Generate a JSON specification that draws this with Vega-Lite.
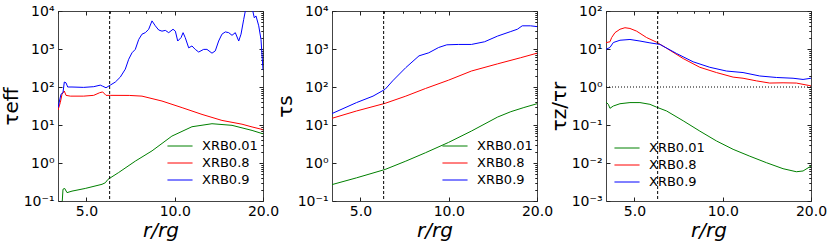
{
  "$schema": "https://vega.github.io/schema/vega-lite/v6.json",
  "background": "white",
  "padding": {"left": 0, "top": 3, "right": 2, "bottom": 0},
  "bounds": "flush",
  "spacing": 69,
  "config": {
    "font": "DejaVu Sans",
    "view": {"stroke": "#444", "strokeWidth": 1},
    "axis": {"grid": false, "domain": false, "minExtent": 0, "tickColor": "#222", "tickSize": -4, "labelColor": "black", "titleColor": "black", "labelFontSize": 14, "titleFontWeight": "normal", "labelFont": "DejaVu Sans", "titleFont": "DejaVu Sans"},
    "axisX": {"labelPadding": 7, "minExtent": 0},
    "axisY": {"labelPadding": 8, "minExtent": 0},
    "legend": {
      "symbolType": "M-1.5,0L1.5,0", "symbolSize": 280, "symbolStrokeWidth": 1, "labelFontSize": 13, "labelFont": "DejaVu Sans", "labelColor": "black", "rowPadding": 1, "offset": 10, "padding": 2, "labelOffset": 13,
      "encode": {"symbols": {"update": {"stroke": {"signal": "datum.value === 'XRB0.01' ? '#008000' : datum.value === 'XRB0.8' ? '#ff0000' : '#7f7fff'"}, "strokeWidth": {"signal": "datum.value === 'XRB0.9' ? 2 : 1"}, "fill": {"value": "transparent"}, "opacity": {"value": 1}, "strokeOpacity": {"value": 1}}}}
    }
  },
  "resolve": {"scale": {"x": "independent", "y": "independent", "color": "independent"}, "legend": {"color": "independent"}},
  "datasets": {
    "tk": [{"r": 6, "v": 1}],
    "d": [
      {"p": 1, "s": "XRB0.01", "r": 4.12, "v": 0.06},
      {"p": 1, "s": "XRB0.01", "r": 4.16, "v": 0.204},
      {"p": 1, "s": "XRB0.01", "r": 4.216, "v": 0.214},
      {"p": 1, "s": "XRB0.01", "r": 4.293, "v": 0.166},
      {"p": 1, "s": "XRB0.01", "r": 4.465, "v": 0.182},
      {"p": 1, "s": "XRB0.01", "r": 4.955, "v": 0.214},
      {"p": 1, "s": "XRB0.01", "r": 5.651, "v": 0.275},
      {"p": 1, "s": "XRB0.01", "r": 5.799, "v": 0.302},
      {"p": 1, "s": "XRB0.01", "r": 5.923, "v": 0.372},
      {"p": 1, "s": "XRB0.01", "r": 6.442, "v": 0.562},
      {"p": 1, "s": "XRB0.01", "r": 7.339, "v": 1.12},
      {"p": 1, "s": "XRB0.01", "r": 8.37, "v": 2.09},
      {"p": 1, "s": "XRB0.01", "r": 9.78, "v": 5.1},
      {"p": 1, "s": "XRB0.01", "r": 11.45, "v": 9.0},
      {"p": 1, "s": "XRB0.01", "r": 13.4, "v": 10.8},
      {"p": 1, "s": "XRB0.01", "r": 15.68, "v": 9.8},
      {"p": 1, "s": "XRB0.01", "r": 18.35, "v": 7.2},
      {"p": 1, "s": "XRB0.01", "r": 19.8, "v": 6.0},
      {"p": 1, "s": "XRB0.01", "r": 20.0, "v": 5.9},

      {"p": 1, "s": "XRB0.8", "r": 4.0, "v": 24.8},
      {"p": 1, "s": "XRB0.8", "r": 4.073, "v": 38.9},
      {"p": 1, "s": "XRB0.8", "r": 4.128, "v": 64.6},
      {"p": 1, "s": "XRB0.8", "r": 4.203, "v": 78.5},
      {"p": 1, "s": "XRB0.8", "r": 4.259, "v": 60.3},
      {"p": 1, "s": "XRB0.8", "r": 4.406, "v": 57.5},
      {"p": 1, "s": "XRB0.8", "r": 4.894, "v": 57.5},
      {"p": 1, "s": "XRB0.8", "r": 5.294, "v": 60.3},
      {"p": 1, "s": "XRB0.8", "r": 5.549, "v": 70.8},
      {"p": 1, "s": "XRB0.8", "r": 5.681, "v": 74.1},
      {"p": 1, "s": "XRB0.8", "r": 5.83, "v": 60.3},
      {"p": 1, "s": "XRB0.8", "r": 6.03, "v": 60.3},
      {"p": 1, "s": "XRB0.8", "r": 7.0, "v": 60.0},
      {"p": 1, "s": "XRB0.8", "r": 7.735, "v": 57.5},
      {"p": 1, "s": "XRB0.8", "r": 9.05, "v": 42.7},
      {"p": 1, "s": "XRB0.8", "r": 10.6, "v": 28.6},
      {"p": 1, "s": "XRB0.8", "r": 12.39, "v": 19.0},
      {"p": 1, "s": "XRB0.8", "r": 14.49, "v": 13.2},
      {"p": 1, "s": "XRB0.8", "r": 16.96, "v": 10.5},
      {"p": 1, "s": "XRB0.8", "r": 18.35, "v": 8.9},
      {"p": 1, "s": "XRB0.8", "r": 19.8, "v": 7.7},
      {"p": 1, "s": "XRB0.8", "r": 20.0, "v": 7.4},

      {"p": 1, "s": "XRB0.9", "r": 4.0, "v": 28.6},
      {"p": 1, "s": "XRB0.9", "r": 4.095, "v": 64.6},
      {"p": 1, "s": "XRB0.9", "r": 4.16, "v": 70.8},
      {"p": 1, "s": "XRB0.9", "r": 4.203, "v": 135},
      {"p": 1, "s": "XRB0.9", "r": 4.259, "v": 129},
      {"p": 1, "s": "XRB0.9", "r": 4.317, "v": 100},
      {"p": 1, "s": "XRB0.9", "r": 4.465, "v": 100},
      {"p": 1, "s": "XRB0.9", "r": 4.894, "v": 97.7},
      {"p": 1, "s": "XRB0.9", "r": 5.294, "v": 102},
      {"p": 1, "s": "XRB0.9", "r": 5.575, "v": 112},
      {"p": 1, "s": "XRB0.9", "r": 5.681, "v": 105},
      {"p": 1, "s": "XRB0.9", "r": 5.83, "v": 95.5},
      {"p": 1, "s": "XRB0.9", "r": 6.03, "v": 112},
      {"p": 1, "s": "XRB0.9", "r": 6.273, "v": 135},
      {"p": 1, "s": "XRB0.9", "r": 6.523, "v": 182},
      {"p": 1, "s": "XRB0.9", "r": 6.785, "v": 295},
      {"p": 1, "s": "XRB0.9", "r": 6.968, "v": 537},
      {"p": 1, "s": "XRB0.9", "r": 7.151, "v": 794},
      {"p": 1, "s": "XRB0.9", "r": 7.339, "v": 977},
      {"p": 1, "s": "XRB0.9", "r": 7.537, "v": 1778},
      {"p": 1, "s": "XRB0.9", "r": 7.735, "v": 2455},
      {"p": 1, "s": "XRB0.9", "r": 7.938, "v": 2692},
      {"p": 1, "s": "XRB0.9", "r": 8.153, "v": 3311},
      {"p": 1, "s": "XRB0.9", "r": 8.367, "v": 5495},
      {"p": 1, "s": "XRB0.9", "r": 8.587, "v": 4074},
      {"p": 1, "s": "XRB0.9", "r": 8.82, "v": 3162},
      {"p": 1, "s": "XRB0.9", "r": 9.05, "v": 2951},
      {"p": 1, "s": "XRB0.9", "r": 9.29, "v": 3090},
      {"p": 1, "s": "XRB0.9", "r": 9.54, "v": 2692},
      {"p": 1, "s": "XRB0.9", "r": 9.87, "v": 3311},
      {"p": 1, "s": "XRB0.9", "r": 10.05, "v": 2951},
      {"p": 1, "s": "XRB0.9", "r": 10.24, "v": 1622},
      {"p": 1, "s": "XRB0.9", "r": 10.51, "v": 1995},
      {"p": 1, "s": "XRB0.9", "r": 10.68, "v": 2692},
      {"p": 1, "s": "XRB0.9", "r": 10.86, "v": 1995},
      {"p": 1, "s": "XRB0.9", "r": 11.16, "v": 1072},
      {"p": 1, "s": "XRB0.9", "r": 11.45, "v": 1202},
      {"p": 1, "s": "XRB0.9", "r": 11.75, "v": 977},
      {"p": 1, "s": "XRB0.9", "r": 12.07, "v": 832},
      {"p": 1, "s": "XRB0.9", "r": 12.55, "v": 977},
      {"p": 1, "s": "XRB0.9", "r": 12.88, "v": 977},
      {"p": 1, "s": "XRB0.9", "r": 13.4, "v": 776},
      {"p": 1, "s": "XRB0.9", "r": 13.75, "v": 891},
      {"p": 1, "s": "XRB0.9", "r": 14.12, "v": 1622},
      {"p": 1, "s": "XRB0.9", "r": 14.49, "v": 2455},
      {"p": 1, "s": "XRB0.9", "r": 14.88, "v": 2818},
      {"p": 1, "s": "XRB0.9", "r": 15.28, "v": 2692},
      {"p": 1, "s": "XRB0.9", "r": 15.68, "v": 2291},
      {"p": 1, "s": "XRB0.9", "r": 16.09, "v": 2692},
      {"p": 1, "s": "XRB0.9", "r": 16.53, "v": 1622},
      {"p": 1, "s": "XRB0.9", "r": 16.83, "v": 2455},
      {"p": 1, "s": "XRB0.9", "r": 17.19, "v": 6026},
      {"p": 1, "s": "XRB0.9", "r": 17.5, "v": 12300},
      {"p": 1, "s": "XRB0.9", "r": 17.88, "v": 17800},
      {"p": 1, "s": "XRB0.9", "r": 18.35, "v": 12300},
      {"p": 1, "s": "XRB0.9", "r": 18.68, "v": 6607},
      {"p": 1, "s": "XRB0.9", "r": 18.93, "v": 7413},
      {"p": 1, "s": "XRB0.9", "r": 19.34, "v": 4074},
      {"p": 1, "s": "XRB0.9", "r": 19.69, "v": 1778},
      {"p": 1, "s": "XRB0.9", "r": 20.0, "v": 282},

      {"p": 2, "s": "XRB0.01", "r": 4.0, "v": 0.27},
      {"p": 2, "s": "XRB0.01", "r": 4.85, "v": 0.407},
      {"p": 2, "s": "XRB0.01", "r": 6.07, "v": 0.676},
      {"p": 2, "s": "XRB0.01", "r": 7.14, "v": 1.12},
      {"p": 2, "s": "XRB0.01", "r": 8.33, "v": 1.86},
      {"p": 2, "s": "XRB0.01", "r": 9.98, "v": 3.47},
      {"p": 2, "s": "XRB0.01", "r": 11.95, "v": 6.92},
      {"p": 2, "s": "XRB0.01", "r": 14.68, "v": 16.2},
      {"p": 2, "s": "XRB0.01", "r": 16.28, "v": 22.4},
      {"p": 2, "s": "XRB0.01", "r": 18.04, "v": 28.8},
      {"p": 2, "s": "XRB0.01", "r": 20.0, "v": 36.3},

      {"p": 2, "s": "XRB0.8", "r": 4.0, "v": 15.0},
      {"p": 2, "s": "XRB0.8", "r": 4.85, "v": 23.4},
      {"p": 2, "s": "XRB0.8", "r": 6.07, "v": 37.2},
      {"p": 2, "s": "XRB0.8", "r": 7.14, "v": 57.5},
      {"p": 2, "s": "XRB0.8", "r": 8.33, "v": 91.2},
      {"p": 2, "s": "XRB0.8", "r": 9.98, "v": 151},
      {"p": 2, "s": "XRB0.8", "r": 11.95, "v": 263},
      {"p": 2, "s": "XRB0.8", "r": 14.68, "v": 407},
      {"p": 2, "s": "XRB0.8", "r": 17.58, "v": 589},
      {"p": 2, "s": "XRB0.8", "r": 20.0, "v": 776},

      {"p": 2, "s": "XRB0.9", "r": 4.0, "v": 20.0},
      {"p": 2, "s": "XRB0.9", "r": 4.85, "v": 38.9},
      {"p": 2, "s": "XRB0.9", "r": 5.52, "v": 57.5},
      {"p": 2, "s": "XRB0.9", "r": 6.07, "v": 87},
      {"p": 2, "s": "XRB0.9", "r": 6.44, "v": 145},
      {"p": 2, "s": "XRB0.9", "r": 7.14, "v": 324},
      {"p": 2, "s": "XRB0.9", "r": 7.92, "v": 661},
      {"p": 2, "s": "XRB0.9", "r": 8.55, "v": 794},
      {"p": 2, "s": "XRB0.9", "r": 9.24, "v": 1096},
      {"p": 2, "s": "XRB0.9", "r": 9.85, "v": 1288},
      {"p": 2, "s": "XRB0.9", "r": 10.78, "v": 1318},
      {"p": 2, "s": "XRB0.9", "r": 11.95, "v": 1318},
      {"p": 2, "s": "XRB0.9", "r": 13.25, "v": 1549},
      {"p": 2, "s": "XRB0.9", "r": 14.68, "v": 2188},
      {"p": 2, "s": "XRB0.9", "r": 16.28, "v": 2884},
      {"p": 2, "s": "XRB0.9", "r": 17.14, "v": 3311},
      {"p": 2, "s": "XRB0.9", "r": 17.81, "v": 4074},
      {"p": 2, "s": "XRB0.9", "r": 19.0, "v": 4074},
      {"p": 2, "s": "XRB0.9", "r": 20.0, "v": 3890},

      {"p": 3, "s": "XRB0.01", "r": 4.0, "v": 0.403},
      {"p": 3, "s": "XRB0.01", "r": 4.074, "v": 0.35},
      {"p": 3, "s": "XRB0.01", "r": 4.127, "v": 0.275},
      {"p": 3, "s": "XRB0.01", "r": 4.237, "v": 0.316},
      {"p": 3, "s": "XRB0.01", "r": 4.464, "v": 0.363},
      {"p": 3, "s": "XRB0.01", "r": 4.828, "v": 0.389},
      {"p": 3, "s": "XRB0.01", "r": 5.222, "v": 0.389},
      {"p": 3, "s": "XRB0.01", "r": 5.647, "v": 0.35},
      {"p": 3, "s": "XRB0.01", "r": 5.95, "v": 0.295},
      {"p": 3, "s": "XRB0.01", "r": 6.436, "v": 0.234},
      {"p": 3, "s": "XRB0.01", "r": 7.334, "v": 0.129},
      {"p": 3, "s": "XRB0.01", "r": 8.357, "v": 0.069},
      {"p": 3, "s": "XRB0.01", "r": 9.522, "v": 0.038},
      {"p": 3, "s": "XRB0.01", "r": 10.85, "v": 0.0229},
      {"p": 3, "s": "XRB0.01", "r": 12.37, "v": 0.0151},
      {"p": 3, "s": "XRB0.01", "r": 14.09, "v": 0.0102},
      {"p": 3, "s": "XRB0.01", "r": 16.06, "v": 0.00708},
      {"p": 3, "s": "XRB0.01", "r": 17.83, "v": 0.00589},
      {"p": 3, "s": "XRB0.01", "r": 18.79, "v": 0.00617},
      {"p": 3, "s": "XRB0.01", "r": 20.0, "v": 0.00832},

      {"p": 3, "s": "XRB0.8", "r": 4.0, "v": 14.7},
      {"p": 3, "s": "XRB0.8", "r": 4.127, "v": 15.5},
      {"p": 3, "s": "XRB0.8", "r": 4.182, "v": 20.0},
      {"p": 3, "s": "XRB0.8", "r": 4.292, "v": 26.9},
      {"p": 3, "s": "XRB0.8", "r": 4.464, "v": 33.1},
      {"p": 3, "s": "XRB0.8", "r": 4.642, "v": 36.3},
      {"p": 3, "s": "XRB0.8", "r": 4.828, "v": 34.7},
      {"p": 3, "s": "XRB0.8", "r": 5.087, "v": 29.5},
      {"p": 3, "s": "XRB0.8", "r": 5.501, "v": 20.0},
      {"p": 3, "s": "XRB0.8", "r": 5.95, "v": 15.1},
      {"p": 3, "s": "XRB0.8", "r": 6.436, "v": 10.5},
      {"p": 3, "s": "XRB0.8", "r": 7.334, "v": 5.6},
      {"p": 3, "s": "XRB0.8", "r": 8.357, "v": 3.3},
      {"p": 3, "s": "XRB0.8", "r": 9.522, "v": 2.4},
      {"p": 3, "s": "XRB0.8", "r": 10.85, "v": 1.82},
      {"p": 3, "s": "XRB0.8", "r": 11.73, "v": 1.7},
      {"p": 3, "s": "XRB0.8", "r": 13.03, "v": 1.45},
      {"p": 3, "s": "XRB0.8", "r": 14.46, "v": 1.27},
      {"p": 3, "s": "XRB0.8", "r": 16.06, "v": 1.29},
      {"p": 3, "s": "XRB0.8", "r": 17.83, "v": 1.27},
      {"p": 3, "s": "XRB0.8", "r": 20.0, "v": 1.07},

      {"p": 3, "s": "XRB0.9", "r": 4.0, "v": 9.8},
      {"p": 3, "s": "XRB0.9", "r": 4.127, "v": 11.0},
      {"p": 3, "s": "XRB0.9", "r": 4.237, "v": 14.8},
      {"p": 3, "s": "XRB0.9", "r": 4.464, "v": 17.0},
      {"p": 3, "s": "XRB0.9", "r": 4.828, "v": 17.8},
      {"p": 3, "s": "XRB0.9", "r": 5.222, "v": 16.2},
      {"p": 3, "s": "XRB0.9", "r": 5.647, "v": 14.5},
      {"p": 3, "s": "XRB0.9", "r": 6.108, "v": 13.2},
      {"p": 3, "s": "XRB0.9", "r": 6.964, "v": 7.6},
      {"p": 3, "s": "XRB0.9", "r": 7.931, "v": 4.6},
      {"p": 3, "s": "XRB0.9", "r": 9.036, "v": 3.3},
      {"p": 3, "s": "XRB0.9", "r": 10.3, "v": 2.63},
      {"p": 3, "s": "XRB0.9", "r": 11.73, "v": 2.4},
      {"p": 3, "s": "XRB0.9", "r": 13.37, "v": 1.95},
      {"p": 3, "s": "XRB0.9", "r": 15.24, "v": 1.78},
      {"p": 3, "s": "XRB0.9", "r": 17.37, "v": 1.7},
      {"p": 3, "s": "XRB0.9", "r": 18.79, "v": 1.58},
      {"p": 3, "s": "XRB0.9", "r": 20.0, "v": 1.7}
    ]
  },
  "hconcat": [
    {
      "width": 205, "height": 190,
      "resolve": {"axis": {"x": "independent", "y": "independent"}},
      "layer": [
        {
          "data": {"name": "d"},
          "transform": [{"filter": "datum.p == 1"}],
          "mark": {"type": "line", "clip": true, "strokeWidth": 1},
          "encoding": {
            "x": {"field": "r", "type": "quantitative", "scale": {"type": "log", "domain": [4, 20], "nice": false}, "axis": {"values": [5, 10, 20], "format": ".1f", "labelFlush": false, "title": "r/rg", "titleFontSize": 20, "titleFontStyle": "italic", "titlePadding": 2}},
            "y": {"field": "v", "type": "quantitative", "scale": {"type": "log", "domain": [0.1, 10000], "nice": false}, "axis": {"values": [0.1, 1, 10, 100, 1000, 10000], "labelExpr": "datum.value >= 9999 ? '10⁴' : datum.value >= 999 ? '10³' : datum.value >= 99 ? '10²' : datum.value >= 9 ? '10¹' : datum.value >= 0.9 ? '10⁰' : datum.value >= 0.09 ? '10⁻¹' : datum.value >= 0.009 ? '10⁻²' : '10⁻³'", "title": "τeff", "titleFontSize": 20, "titlePadding": 2}},
            "color": {"field": "s", "type": "nominal", "scale": {"domain": ["XRB0.01", "XRB0.8", "XRB0.9"], "range": ["#008000", "#ff0000", "#0000ff"]}, "legend": {"title": null, "orient": "none", "legendX": 111, "legendY": 124}}
          }
        },
        {
          "data": {"name": "tk"},
          "mark": {"type": "point", "opacity": 0},
          "encoding": {
            "x": {"field": "r", "type": "quantitative", "axis": {"values": [4, 6, 7, 8, 9], "labels": false, "title": null, "tickSize": -2}},
            "y": {"field": "v", "type": "quantitative", "axis": {"values": [0.2, 0.3, 0.4, 0.5, 0.6, 0.7, 0.8, 0.9, 2, 3, 4, 5, 6, 7, 8, 9, 20, 30, 40, 50, 60, 70, 80, 90, 200, 300, 400, 500, 600, 700, 800, 900, 2000, 3000, 4000, 5000, 6000, 7000, 8000, 9000], "labels": false, "title": null, "tickSize": -2}}
          }
        },
        {
          "data": {"name": "tk"},
          "mark": {"type": "point", "opacity": 0},
          "encoding": {
            "x": {"field": "r", "type": "quantitative", "axis": {"orient": "top", "values": [5, 10, 20], "labels": false, "title": null}},
            "y": {"field": "v", "type": "quantitative", "axis": {"orient": "right", "values": [0.1, 1, 10, 100, 1000, 10000], "labels": false, "title": null}}
          }
        },
        {
          "data": {"name": "tk"},
          "mark": {"type": "point", "opacity": 0},
          "encoding": {
            "x": {"field": "r", "type": "quantitative", "axis": {"orient": "top", "values": [4, 6, 7, 8, 9], "labels": false, "title": null, "tickSize": -2}},
            "y": {"field": "v", "type": "quantitative", "axis": {"orient": "right", "values": [0.2, 0.3, 0.4, 0.5, 0.6, 0.7, 0.8, 0.9, 2, 3, 4, 5, 6, 7, 8, 9, 20, 30, 40, 50, 60, 70, 80, 90, 200, 300, 400, 500, 600, 700, 800, 900, 2000, 3000, 4000, 5000, 6000, 7000, 8000, 9000], "labels": false, "title": null, "tickSize": -2}}
          }
        },
        {
          "data": {"name": "tk"},
          "mark": {"type": "rule", "color": "black", "strokeDash": [3, 2], "strokeWidth": 1},
          "encoding": {"x": {"field": "r", "type": "quantitative", "axis": null}}
        }
      ]
    },
    {
      "width": 205, "height": 190,
      "resolve": {"axis": {"x": "independent", "y": "independent"}},
      "layer": [
        {
          "data": {"name": "d"},
          "transform": [{"filter": "datum.p == 2"}],
          "mark": {"type": "line", "clip": true, "strokeWidth": 1},
          "encoding": {
            "x": {"field": "r", "type": "quantitative", "scale": {"type": "log", "domain": [4, 20], "nice": false}, "axis": {"values": [5, 10, 20], "format": ".1f", "labelFlush": false, "title": "r/rg", "titleFontSize": 20, "titleFontStyle": "italic", "titlePadding": 2}},
            "y": {"field": "v", "type": "quantitative", "scale": {"type": "log", "domain": [0.1, 10000], "nice": false}, "axis": {"values": [0.1, 1, 10, 100, 1000, 10000], "labelExpr": "datum.value >= 9999 ? '10⁴' : datum.value >= 999 ? '10³' : datum.value >= 99 ? '10²' : datum.value >= 9 ? '10¹' : datum.value >= 0.9 ? '10⁰' : datum.value >= 0.09 ? '10⁻¹' : datum.value >= 0.009 ? '10⁻²' : '10⁻³'", "title": "τs", "titleFontSize": 20, "titlePadding": 2}},
            "color": {"field": "s", "type": "nominal", "scale": {"domain": ["XRB0.01", "XRB0.8", "XRB0.9"], "range": ["#008000", "#ff0000", "#0000ff"]}, "legend": {"title": null, "orient": "none", "legendX": 112, "legendY": 124}}
          }
        },
        {
          "data": {"name": "tk"},
          "mark": {"type": "point", "opacity": 0},
          "encoding": {
            "x": {"field": "r", "type": "quantitative", "axis": {"values": [4, 6, 7, 8, 9], "labels": false, "title": null, "tickSize": -2}},
            "y": {"field": "v", "type": "quantitative", "axis": {"values": [0.2, 0.3, 0.4, 0.5, 0.6, 0.7, 0.8, 0.9, 2, 3, 4, 5, 6, 7, 8, 9, 20, 30, 40, 50, 60, 70, 80, 90, 200, 300, 400, 500, 600, 700, 800, 900, 2000, 3000, 4000, 5000, 6000, 7000, 8000, 9000], "labels": false, "title": null, "tickSize": -2}}
          }
        },
        {
          "data": {"name": "tk"},
          "mark": {"type": "point", "opacity": 0},
          "encoding": {
            "x": {"field": "r", "type": "quantitative", "axis": {"orient": "top", "values": [5, 10, 20], "labels": false, "title": null}},
            "y": {"field": "v", "type": "quantitative", "axis": {"orient": "right", "values": [0.1, 1, 10, 100, 1000, 10000], "labels": false, "title": null}}
          }
        },
        {
          "data": {"name": "tk"},
          "mark": {"type": "point", "opacity": 0},
          "encoding": {
            "x": {"field": "r", "type": "quantitative", "axis": {"orient": "top", "values": [4, 6, 7, 8, 9], "labels": false, "title": null, "tickSize": -2}},
            "y": {"field": "v", "type": "quantitative", "axis": {"orient": "right", "values": [0.2, 0.3, 0.4, 0.5, 0.6, 0.7, 0.8, 0.9, 2, 3, 4, 5, 6, 7, 8, 9, 20, 30, 40, 50, 60, 70, 80, 90, 200, 300, 400, 500, 600, 700, 800, 900, 2000, 3000, 4000, 5000, 6000, 7000, 8000, 9000], "labels": false, "title": null, "tickSize": -2}}
          }
        },
        {
          "data": {"name": "tk"},
          "mark": {"type": "rule", "color": "black", "strokeDash": [3, 2], "strokeWidth": 1},
          "encoding": {"x": {"field": "r", "type": "quantitative", "axis": null}}
        }
      ]
    },
    {
      "width": 205, "height": 190,
      "resolve": {"axis": {"x": "independent", "y": "independent"}},
      "layer": [
        {
          "data": {"name": "d"},
          "transform": [{"filter": "datum.p == 3"}],
          "mark": {"type": "line", "clip": true, "strokeWidth": 1},
          "encoding": {
            "x": {"field": "r", "type": "quantitative", "scale": {"type": "log", "domain": [4, 20], "nice": false}, "axis": {"values": [5, 10, 20], "format": ".1f", "labelFlush": false, "title": "r/rg", "titleFontSize": 20, "titleFontStyle": "italic", "titlePadding": 2}},
            "y": {"field": "v", "type": "quantitative", "scale": {"type": "log", "domain": [0.001, 100], "nice": false}, "axis": {"values": [0.001, 0.01, 0.1, 1, 10, 100], "labelExpr": "datum.value >= 9999 ? '10⁴' : datum.value >= 999 ? '10³' : datum.value >= 99 ? '10²' : datum.value >= 9 ? '10¹' : datum.value >= 0.9 ? '10⁰' : datum.value >= 0.09 ? '10⁻¹' : datum.value >= 0.009 ? '10⁻²' : '10⁻³'", "title": "τz/τr", "titleFontSize": 20, "titlePadding": 2}},
            "color": {"field": "s", "type": "nominal", "scale": {"domain": ["XRB0.01", "XRB0.8", "XRB0.9"], "range": ["#008000", "#ff0000", "#0000ff"]}, "legend": {"title": null, "orient": "bottom-left"}}
          }
        },
        {
          "data": {"name": "tk"},
          "mark": {"type": "point", "opacity": 0},
          "encoding": {
            "x": {"field": "r", "type": "quantitative", "axis": {"values": [4, 6, 7, 8, 9], "labels": false, "title": null, "tickSize": -2}},
            "y": {"field": "v", "type": "quantitative", "axis": {"values": [0.002, 0.003, 0.004, 0.005, 0.006, 0.007, 0.008, 0.009, 0.02, 0.03, 0.04, 0.05, 0.06, 0.07, 0.08, 0.09, 0.2, 0.3, 0.4, 0.5, 0.6, 0.7, 0.8, 0.9, 2, 3, 4, 5, 6, 7, 8, 9, 20, 30, 40, 50, 60, 70, 80, 90], "labels": false, "title": null, "tickSize": -2}}
          }
        },
        {
          "data": {"name": "tk"},
          "mark": {"type": "point", "opacity": 0},
          "encoding": {
            "x": {"field": "r", "type": "quantitative", "axis": {"orient": "top", "values": [5, 10, 20], "labels": false, "title": null}},
            "y": {"field": "v", "type": "quantitative", "axis": {"orient": "right", "values": [0.001, 0.01, 0.1, 1, 10, 100], "labels": false, "title": null}}
          }
        },
        {
          "data": {"name": "tk"},
          "mark": {"type": "point", "opacity": 0},
          "encoding": {
            "x": {"field": "r", "type": "quantitative", "axis": {"orient": "top", "values": [4, 6, 7, 8, 9], "labels": false, "title": null, "tickSize": -2}},
            "y": {"field": "v", "type": "quantitative", "axis": {"orient": "right", "values": [0.002, 0.003, 0.004, 0.005, 0.006, 0.007, 0.008, 0.009, 0.02, 0.03, 0.04, 0.05, 0.06, 0.07, 0.08, 0.09, 0.2, 0.3, 0.4, 0.5, 0.6, 0.7, 0.8, 0.9, 2, 3, 4, 5, 6, 7, 8, 9, 20, 30, 40, 50, 60, 70, 80, 90], "labels": false, "title": null, "tickSize": -2}}
          }
        },
        {
          "data": {"name": "tk"},
          "mark": {"type": "rule", "color": "black", "strokeDash": [3, 2], "strokeWidth": 1},
          "encoding": {"x": {"field": "r", "type": "quantitative", "axis": null}}
        },
        {
          "data": {"name": "tk"},
          "mark": {"type": "rule", "color": "black", "strokeDash": [1, 2], "strokeWidth": 1},
          "encoding": {"y": {"field": "v", "type": "quantitative", "axis": null}}
        }
      ]
    }
  ]
}
